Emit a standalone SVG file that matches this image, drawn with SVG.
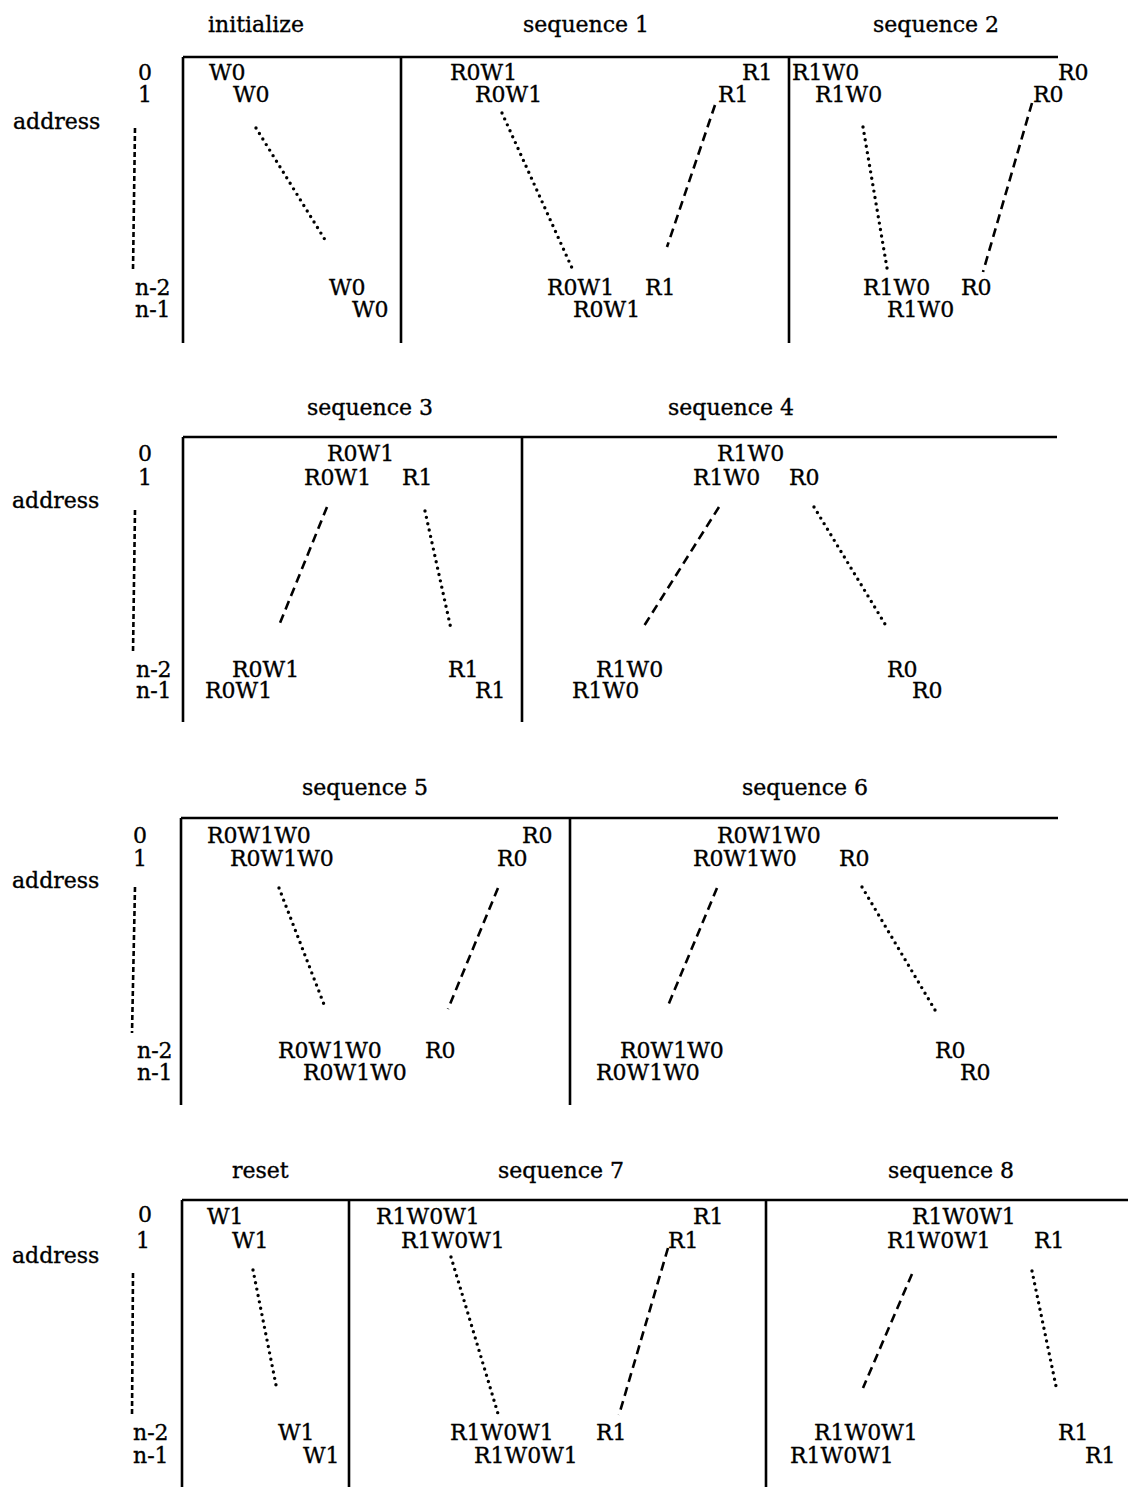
<svg xmlns="http://www.w3.org/2000/svg" width="1128" height="1487" viewBox="0 0 1128 1487">
<style>
text{font-family:"DejaVu Serif","Liberation Serif",serif;font-size:22px;fill:#000;stroke:#000;stroke-width:0.35}
.frame{stroke:#000;stroke-width:2.6;fill:none}
.dot{stroke:#000;stroke-width:3.4;stroke-linecap:round;stroke-dasharray:0 6.5;fill:none}
.dash{stroke:#000;stroke-width:2.6;stroke-dasharray:9 5.5;fill:none}
.axis{stroke:#000;stroke-width:2.6;stroke-dasharray:5 3;fill:none}
</style>
<rect width="1128" height="1487" fill="#fff"/>
<g id="frames">
<path class="frame" d="M183 57H1058M183 57V343M401 57V343M789 57V343"/>
<path class="frame" d="M183 437H1057M183 437V722M522 437V722"/>
<path class="frame" d="M181 818H1058M181 818V1105M570 818V1105"/>
<path class="frame" d="M182 1200H1128M182 1200V1487M349 1200V1487M766 1200V1487"/>
</g>
<g id="axis-row1"><text x="138" y="80">0</text><text x="138" y="102">1</text><text x="13" y="129">address</text><text x="135" y="295">n-2</text><text x="135" y="317">n-1</text></g>
<g id="axis-row2"><text x="138" y="461">0</text><text x="138" y="485">1</text><text x="12" y="508">address</text><text x="136" y="677">n-2</text><text x="136" y="698">n-1</text></g>
<g id="axis-row3"><text x="133" y="843">0</text><text x="133" y="866">1</text><text x="12" y="888">address</text><text x="137" y="1058">n-2</text><text x="137" y="1080">n-1</text></g>
<g id="axis-row4"><text x="138" y="1222">0</text><text x="136" y="1248">1</text><text x="12" y="1263">address</text><text x="133" y="1440">n-2</text><text x="133" y="1463">n-1</text></g>
<g id="initialize"><text x="208" y="32">initialize</text><text x="209" y="80">W0</text><text x="233" y="102">W0</text><text x="329" y="295">W0</text><text x="352" y="317">W0</text></g>
<g id="sequence1"><text x="523" y="32">sequence 1</text><text x="450" y="80">R0W1</text><text x="475" y="102">R0W1</text><text x="742" y="80">R1</text><text x="718" y="102">R1</text><text x="547" y="295">R0W1</text><text x="645" y="295">R1</text><text x="573" y="317">R0W1</text></g>
<g id="sequence2"><text x="873" y="32">sequence 2</text><text x="792" y="80">R1W0</text><text x="1058" y="80">R0</text><text x="815" y="102">R1W0</text><text x="1033" y="102">R0</text><text x="863" y="295">R1W0</text><text x="961" y="295">R0</text><text x="887" y="317">R1W0</text></g>
<g id="sequence3"><text x="307" y="415">sequence 3</text><text x="327" y="461">R0W1</text><text x="304" y="485">R0W1</text><text x="402" y="485">R1</text><text x="232" y="677">R0W1</text><text x="205" y="698">R0W1</text><text x="448" y="677">R1</text><text x="475" y="698">R1</text></g>
<g id="sequence4"><text x="668" y="415">sequence 4</text><text x="717" y="461">R1W0</text><text x="693" y="485">R1W0</text><text x="789" y="485">R0</text><text x="596" y="677">R1W0</text><text x="572" y="698">R1W0</text><text x="887" y="677">R0</text><text x="912" y="698">R0</text></g>
<g id="sequence5"><text x="302" y="795">sequence 5</text><text x="207" y="843">R0W1W0</text><text x="230" y="866">R0W1W0</text><text x="522" y="843">R0</text><text x="497" y="866">R0</text><text x="278" y="1058">R0W1W0</text><text x="425" y="1058">R0</text><text x="303" y="1080">R0W1W0</text></g>
<g id="sequence6"><text x="742" y="795">sequence 6</text><text x="717" y="843">R0W1W0</text><text x="693" y="866">R0W1W0</text><text x="839" y="866">R0</text><text x="620" y="1058">R0W1W0</text><text x="596" y="1080">R0W1W0</text><text x="935" y="1058">R0</text><text x="960" y="1080">R0</text></g>
<g id="reset"><text x="232" y="1178">reset</text><text x="207" y="1224">W1</text><text x="232" y="1248">W1</text><text x="278" y="1440">W1</text><text x="303" y="1463">W1</text></g>
<g id="sequence7"><text x="498" y="1178">sequence 7</text><text x="376" y="1224">R1W0W1</text><text x="401" y="1248">R1W0W1</text><text x="693" y="1224">R1</text><text x="668" y="1248">R1</text><text x="450" y="1440">R1W0W1</text><text x="596" y="1440">R1</text><text x="474" y="1463">R1W0W1</text></g>
<g id="sequence8"><text x="888" y="1178">sequence 8</text><text x="912" y="1224">R1W0W1</text><text x="887" y="1248">R1W0W1</text><text x="1034" y="1248">R1</text><text x="814" y="1440">R1W0W1</text><text x="790" y="1463">R1W0W1</text><text x="1058" y="1440">R1</text><text x="1085" y="1463">R1</text></g>
<g id="connectors">
<path class="axis" d="M135 128L133 270"/>
<path class="axis" d="M135 510L133 653"/>
<path class="axis" d="M135 887L132 1033"/>
<path class="axis" d="M133 1273L132 1417"/>
<path class="dot" d="M256 128L327 243"/>
<path class="dot" d="M502 113L572 268"/>
<path class="dash" d="M715 105L667 247"/>
<path class="dot" d="M863 127L887 268"/>
<path class="dash" d="M1032 103L983 272"/>
<path class="dash" d="M327 507L278 628"/>
<path class="dot" d="M425 511L451 629"/>
<path class="dash" d="M719 507L644 626"/>
<path class="dot" d="M814 507L888 629"/>
<path class="dot" d="M279 888L325 1007"/>
<path class="dash" d="M498 888L448 1009"/>
<path class="dash" d="M717 888L667 1008"/>
<path class="dot" d="M862 887L935 1010"/>
<path class="dot" d="M253 1270L277 1390"/>
<path class="dot" d="M451 1257L499 1417"/>
<path class="dash" d="M668 1248L619 1415"/>
<path class="dash" d="M912 1274L863 1388"/>
<path class="dot" d="M1032 1271L1057 1391"/>
</g>
</svg>
